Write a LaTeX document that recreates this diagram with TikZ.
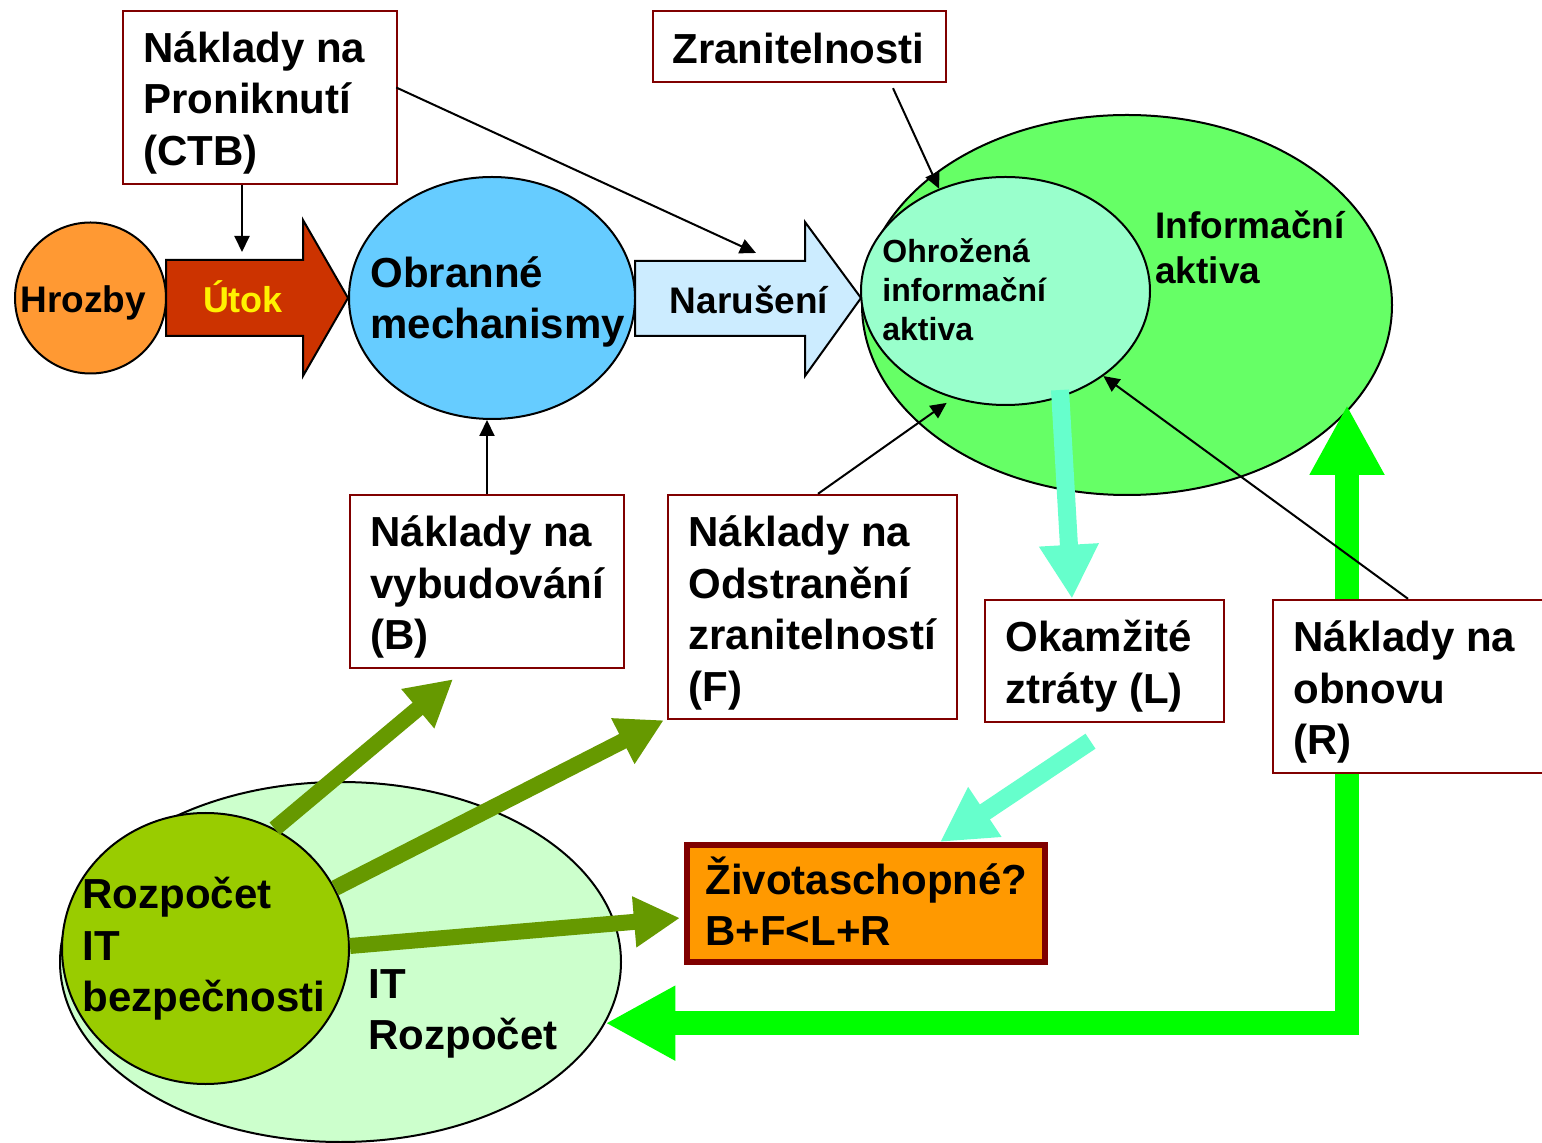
\documentclass[tikz,border=0pt]{standalone}
\usepackage{fontspec}
\setmainfont{Liberation Sans}
\usetikzlibrary{shapes.geometric,arrows.meta,calc}
\definecolor{cHro}{HTML}{FF9933}
\definecolor{cUtok}{HTML}{CC3300}
\definecolor{cObr}{HTML}{66CCFF}
\definecolor{cNar}{HTML}{CCECFF}
\definecolor{cInf}{HTML}{66FF66}
\definecolor{cOhr}{HTML}{99FFCC}
\definecolor{cItr}{HTML}{CCFFCC}
\definecolor{cRit}{HTML}{99CC00}
\definecolor{cZiv}{HTML}{FF9900}
\definecolor{cBord}{HTML}{800000}
\definecolor{cOlive}{HTML}{669900}
\definecolor{cTeal}{HTML}{66FFCC}
\definecolor{cGreen}{HTML}{00FF00}
\begin{document}
\begin{tikzpicture}[x=0.5pt,y=-0.5pt,
  ell/.style={ellipse, draw=black, line width=1pt, inner sep=0pt},
  boxn/.style={rectangle, draw=cBord, line width=1.2pt, fill=white, inner sep=0pt},
  txt/.style={inner sep=0pt, align=left, anchor=west, font=\bfseries\fontsize{21pt}{25.75pt}\selectfont},
  thinarr/.style={-{Triangle[length=8pt,width=7.5pt]}, line width=1pt, draw=black},
  olivearr/.style={draw=cOlive, line width=8pt, -{Triangle[length=23pt,width=24pt]}},
  tealarr/.style={draw=cTeal, line width=9pt, -{Triangle[length=27pt,width=28pt]}},
  greenarr/.style={draw=cGreen, line width=12pt, {Triangle[length=35pt,width=35pt]}-{Triangle[length=35pt,width=35pt]}}
]
\useasboundingbox (0,0) rectangle (1542,1143);
\clip (0,0) rectangle (1542,1143);
\fill[white] (0,0) rectangle (1542,1143);

% ellipses
\node[ell, fill=cItr, minimum width=280.5pt, minimum height=180pt] (itr) at (340.5,962) {};
\node[ell, fill=cRit, minimum width=143.5pt, minimum height=135.5pt] (rit) at (205.5,948.5) {};
\node[ell, fill=cInf, minimum width=265pt, minimum height=190pt] (inf) at (1127,305) {};
\node[ell, fill=cOhr, minimum width=144.5pt, minimum height=114pt] (ohr) at (1005.5,291) {};
\node[ell, fill=cObr, minimum width=143pt, minimum height=121pt] (obr) at (492,298) {};
\node[circle, draw=black, line width=1pt, fill=cHro, inner sep=0pt, minimum size=75.5pt] (hro) at (90.5,298) {};

% block arrows
\draw[line width=1pt, fill=cUtok] (166,260) -- (303,260) -- (303,220) -- (348,298) -- (303,376) -- (303,336) -- (166,336) -- cycle;
\draw[line width=1pt, fill=cNar] (635,261) -- (805,261) -- (805,222) -- (861,298) -- (805,376) -- (805,336) -- (635,336) -- cycle;

% ellipse and arrow texts
\node[txt, font=\bfseries\fontsize{18.5pt}{22pt}\selectfont] (hrot) at (20,303) {Hrozby};
\node[inner sep=0pt, text=yellow, font=\bfseries\fontsize{18pt}{22pt}\selectfont] (utok) at (243,297) {Útok};
\node[txt] (obrt) at (370,302) {Obranné\\mechanismy};
\node[inner sep=0pt, font=\bfseries\fontsize{18.5pt}{22pt}\selectfont] (nart) at (749,300) {Narušení};
\node[txt, font=\bfseries\fontsize{16pt}{19.5pt}\selectfont] (ohrt) at (882,290) {Ohrožená\\informační\\aktiva};
\node[txt, font=\bfseries\fontsize{18.5pt}{22.5pt}\selectfont] (inft) at (1155,247) {Informační\\aktiva};
\node[txt] (ritt) at (82,949) {Rozpočet\\IT\\bezpečnosti};
\node[txt] (itrt) at (368,1014) {IT\\Rozpočet};

% thick arrows
\coordinate (gT) at (1347,405);
\draw[greenarr] (itr.-13) -- (gT |- itr.-13) -- (gT);

% boxes
\node[boxn, minimum width=137pt, minimum height=86.5pt] (ctb) at (260,97.5) {};
\node[boxn, minimum width=146.5pt, minimum height=35.5pt] (zran) at (799.5,46.5) {};
\node[boxn, minimum width=137pt, minimum height=86.5pt] (bbox) at (487,581.5) {};
\node[boxn, minimum width=144.5pt, minimum height=112pt] (fbox) at (812.5,607) {};
\node[boxn, minimum width=119.5pt, minimum height=61pt] (lbox) at (1104.5,661) {};
\node[boxn, minimum width=137.5pt, minimum height=86.5pt] (rbox) at (1410.5,686.5) {};
\node[rectangle, draw=cBord, line width=3pt, fill=cZiv, inner sep=0pt, minimum width=179pt, minimum height=58.5pt] (zivot) at (866,903.5) {};

\node[txt] (ctbt) at (143,102.5) {Náklady na\\Proniknutí\\(CTB)};
\node[txt] (zrant) at (672,48) {Zranitelnosti};
\node[txt] (bboxt) at (370,587) {Náklady na\\vybudování\\(B)};
\node[txt] (fboxt) at (688,613) {Náklady na\\Odstranění\\zranitelností\\(F)};
\node[txt] (lboxt) at (1005,666) {Okamžité\\ztráty (L)};
\node[txt] (rboxt) at (1293,692) {Náklady na\\obnovu\\(R)};
\node[txt] (zivott) at (705,901) {Životaschopné?\\B+F<L+R};

\coordinate (t1s) at (1060,390);
\draw[tealarr] (t1s) -- ([xshift=-16.25pt]lbox.north);
\draw[tealarr] ([xshift=-7pt,yshift=-9pt]lbox.south) -- ([xshift=37pt]zivot.north);
\draw[olivearr] (rit.60) -- ([xshift=-17pt,yshift=-5pt]bbox.south);
\draw[olivearr] (rit.25) -- ([xshift=-1.5pt]fbox.south west);
\draw[olivearr] (rit.1) -- ([xshift=-2pt,yshift=-7.25pt]zivot.west);

% thin arrows
\coordinate (utokTop) at (242,252);
\coordinate (narTop) at (756,253);
\draw[thinarr] ([xshift=-9pt]ctb.south) -- (utokTop);
\draw[thinarr] ([xshift=-1pt,yshift=5pt]ctb.east) -- (narTop);
\draw[thinarr] ([xshift=46.75pt,yshift=-2.5pt]zran.south) -- (ohr.123.8);
\draw[thinarr] (bbox.north) -- (bbox.north |- obr.south);
\draw[thinarr, shorten >=4pt] ([xshift=2.75pt]fbox.north) -- (ohr.244.9);
\draw[thinarr] ([xshift=-1.25pt]rbox.north) -- (ohr.319.8);
\end{tikzpicture}
\end{document}
